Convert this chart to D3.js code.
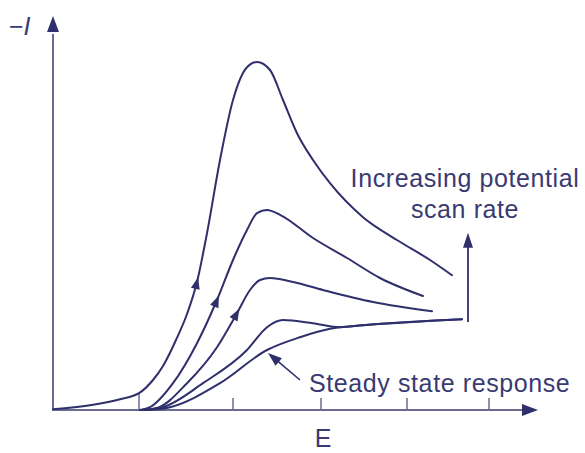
<!DOCTYPE html>
<html>
<head>
<meta charset="utf-8">
<script src="https://cdn.jsdelivr.net/npm/d3@7"></script>
<style>
  html, body { margin: 0; padding: 0; background: #ffffff; }
  svg { display: block; }
  text { font-family: "Liberation Sans", Arial, Helvetica, sans-serif; fill: #3a3a72; }
</style>
</head>
<body>
<svg id="chart" width="585" height="453"></svg>
<script>
// Voltammetric response: current (-I) against potential (E) at several scan rates.
// Each curve is a list of [E, -I] pairs, arbitrary units.
const scanFastest = [
  [0.00, 0.02], [0.74, 0.12], [1.34, 0.27], [1.72, 0.42], [2.00, 0.75], [2.20, 1.10],
  [2.46, 1.75], [2.68, 2.40], [2.88, 3.20], [3.08, 4.42], [3.34, 6.25], [3.60, 7.75],
  [3.88, 8.57], [4.08, 8.70], [4.34, 8.50], [4.60, 7.75], [4.88, 6.92], [5.20, 6.25],
  [5.54, 5.67], [6.20, 4.82], [6.88, 4.25], [7.54, 3.75], [7.98, 3.37]
];
const scanFast = [
  [1.74, 0.00], [1.94, 0.07], [2.40, 0.67], [2.88, 1.67], [3.28, 2.75], [3.60, 3.75],
  [3.88, 4.50], [4.08, 4.92], [4.28, 5.00], [4.54, 4.88], [5.20, 4.30], [5.88, 3.80],
  [6.54, 3.30], [7.40, 2.85]
];
const scanMedium = [
  [1.78, 0.00], [2.08, 0.05], [2.68, 0.67], [3.28, 1.57], [3.68, 2.42], [3.94, 3.00],
  [4.14, 3.25], [4.34, 3.30], [4.80, 3.20], [5.40, 3.00], [6.40, 2.70], [7.58, 2.47]
];
const scanSlow = [
  [1.82, 0.00], [2.20, 0.07], [3.00, 0.67], [3.88, 1.50], [4.28, 2.07], [4.60, 2.25],
  [5.20, 2.17], [5.74, 2.07], [6.20, 2.12], [8.18, 2.27]
];
const steadyState = [
  [1.86, 0.00], [2.34, 0.07], [3.34, 0.67], [4.28, 1.50], [4.94, 1.82], [5.54, 2.03],
  [6.20, 2.12], [8.18, 2.27]
];

const curves = [scanFastest, scanFast, scanMedium, scanSlow, steadyState];
// potential at which each of the three fastest sweeps carries a direction arrow
const sweepArrowE = [2.88, 3.28, 3.68];
// tick positions along the potential axis
const tickE = [1.72, 3.60, 5.36, 7.08, 8.72];

const axisLabelX = "E";
const axisLabelY = "I";
const scanLabel = ["Increasing potential", "scan rate"];
const steadyLabel = "Steady state response";

const ink = "#2f2f6c";
const axisInk = "#6b6b92";

const svg = d3.select("#chart");
const x = d3.scaleLinear().domain([0, 9.7]).range([53, 538]);
const y = d3.scaleLinear().domain([0, 9.75]).range([410, 20]);

// filled triangle with its tip at (tx, ty), pointing along angle a
function arrowHead(g, tx, ty, a, len, half, color) {
  const bx = tx - len * Math.cos(a), by = ty - len * Math.sin(a);
  const px = -Math.sin(a) * half, py = Math.cos(a) * half;
  g.append("path")
    .attr("d", `M${tx},${ty}L${bx + px},${by + py}L${bx - px},${by - py}Z`)
    .attr("fill", color);
}

// axes
const axes = svg.append("g");
axes.append("line").attr("x1", x(0)).attr("x2", x(0)).attr("y1", y(0) + 1).attr("y2", y(9.4))
  .attr("stroke", axisInk).attr("stroke-width", 2);
arrowHead(axes, x(0), y(9.85), -Math.PI / 2, 16, 6, ink);
axes.append("line").attr("x1", x(0) - 1).attr("x2", x(9.4)).attr("y1", y(0)).attr("y2", y(0))
  .attr("stroke", axisInk).attr("stroke-width", 2);
arrowHead(axes, x(9.7), y(0), 0, 16, 6, ink);

// ticks on the potential axis; the first one rises to the fastest sweep
const firstLevel = d3.scaleLinear().domain(scanFastest.map(d => d[0])).range(scanFastest.map(d => d[1]));
axes.selectAll("line.tick").data(tickE).join("line")
  .attr("class", "tick")
  .attr("x1", d => x(d)).attr("x2", d => x(d))
  .attr("y1", y(0))
  .attr("y2", (d, i) => i === 0 ? y(firstLevel(d)) : y(0) - 12)
  .attr("stroke", axisInk).attr("stroke-width", 1.5);

// curves
const line = d3.line().x(d => x(d[0])).y(d => y(d[1])).curve(d3.curveMonotoneX);
const paths = svg.append("g").selectAll("path").data(curves).join("path")
  .attr("d", line)
  .attr("fill", "none")
  .attr("stroke", ink)
  .attr("stroke-width", 2)
  .attr("stroke-linecap", "round");

// direction arrows on the three fastest sweeps
sweepArrowE.forEach((e, i) => {
  const node = paths.nodes()[i];
  const total = node.getTotalLength();
  let lo = 0, hi = total;
  for (let k = 0; k < 40; k++) {
    const mid = (lo + hi) / 2;
    if (node.getPointAtLength(mid).x < x(e)) lo = mid; else hi = mid;
  }
  const p0 = node.getPointAtLength(lo - 6), p1 = node.getPointAtLength(lo + 6);
  const a = Math.atan2(p1.y - p0.y, p1.x - p0.x);
  const tip = node.getPointAtLength(lo + 5);
  arrowHead(svg, tip.x, tip.y, a, 12, 4.5, ink);
});

// scan-rate arrow
const scanArrowE = 8.3;
svg.append("line").attr("x1", x(scanArrowE)).attr("x2", x(scanArrowE))
  .attr("y1", y(2.2)).attr("y2", y(4.3))
  .attr("stroke", ink).attr("stroke-width", 1.8);
arrowHead(svg, x(scanArrowE), y(4.43), -Math.PI / 2, 15, 5, ink);

const labelFont = 25, labelSpacing = 0.6;
svg.append("text").attr("x", 465).attr("y", 187).attr("text-anchor", "middle")
  .attr("font-size", labelFont).attr("letter-spacing", labelSpacing).text(scanLabel[0]);
svg.append("text").attr("x", 465).attr("y", 218).attr("text-anchor", "middle")
  .attr("font-size", labelFont).attr("letter-spacing", labelSpacing).text(scanLabel[1]);

// steady-state pointer
const sx1 = 300, sy1 = 380, sx0 = 268, sy0 = 353;
const sa = Math.atan2(sy0 - sy1, sx0 - sx1);
svg.append("line").attr("x1", sx1).attr("y1", sy1)
  .attr("x2", sx0 - 10 * Math.cos(sa)).attr("y2", sy0 - 10 * Math.sin(sa))
  .attr("stroke", ink).attr("stroke-width", 1.6);
arrowHead(svg, sx0, sy0, sa, 14, 5, ink);
svg.append("text").attr("x", 309).attr("y", 392).attr("font-size", labelFont)
  .attr("letter-spacing", labelSpacing).text(steadyLabel);

// axis labels
svg.append("text").attr("x", 323).attr("y", 447).attr("text-anchor", "middle")
  .attr("font-size", labelFont).text(axisLabelX);
const yl = svg.append("text").attr("x", 9).attr("y", 35).attr("font-size", labelFont);
yl.append("tspan").text("\u2212");
yl.append("tspan").attr("font-style", "italic").text(axisLabelY);
</script>
</body>
</html>
